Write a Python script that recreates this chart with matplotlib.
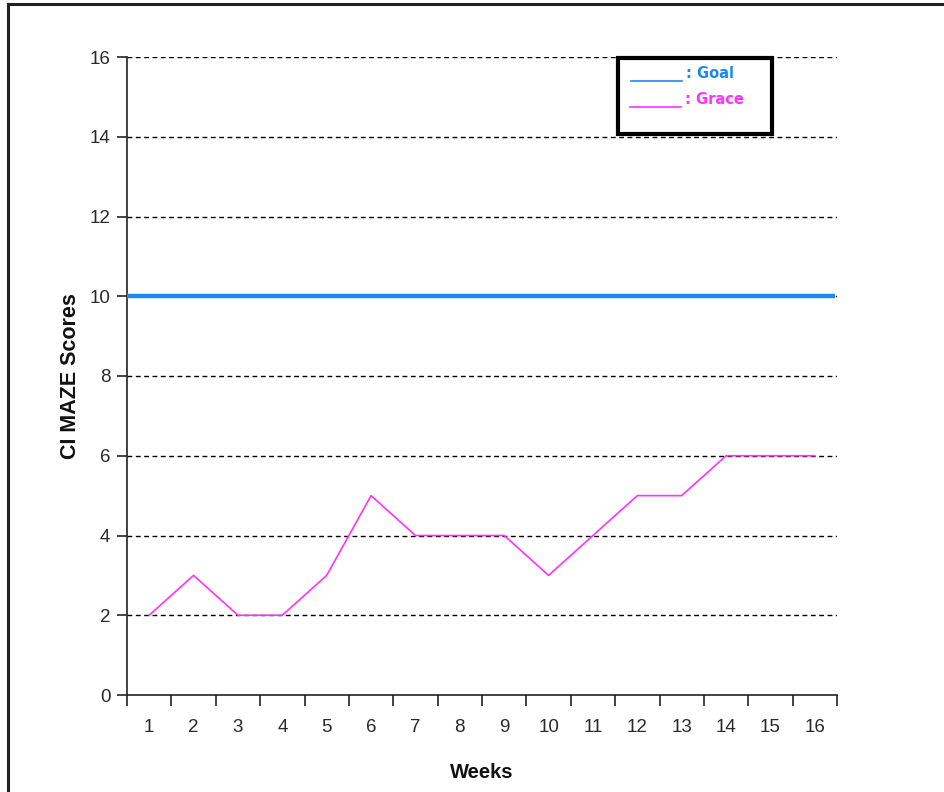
import matplotlib
matplotlib.use("Agg")
import matplotlib.pyplot as plt
from matplotlib.lines import Line2D
from matplotlib.patches import Rectangle

weeks = list(range(1, 17))
week_labels = [str(w) for w in weeks]
grace = [2, 3, 2, 2, 3, 5, 4, 4, 4, 3, 4, 5, 5, 6, 6, 6]
goal_value = 10
yticks = [0, 2, 4, 6, 8, 10, 12, 14, 16]

W, H = 944, 792
fig = plt.figure(figsize=(W / 100, H / 100), dpi=100)
plt.rcParams['font.family'] = ['Liberation Sans', 'DejaVu Sans']

def fx(px):
    return px / W

def fy(py):
    return 1 - py / H

# outer border (left and top visible)
fig.add_artist(Line2D([fx(8), fx(8)], [fy(4), 0], color='#222222', lw=2.2))
fig.add_artist(Line2D([fx(8), 1], [fy(4), fy(4)], color='#222222', lw=2.2))

left, right, top, bottom = 127, 837, 57, 695
ax = fig.add_axes([fx(left), fy(bottom), (right - left) / W, (bottom - top) / H])

ax.set_xlim(0.5, 16.5)
ax.set_ylim(0, 16)

for v in yticks[1:]:
    ax.axhline(v, color='black', lw=1.0, ls=(0, (3.5, 2.5)), zorder=1)

ax.hlines(goal_value, 0.5, 16.45, color='#1E88F0', lw=3.2, zorder=3)
ax.plot(weeks, grace, color='#FF33FF', lw=1.2, zorder=4)

ax.spines['top'].set_visible(False)
ax.spines['right'].set_visible(False)
for s in ('left', 'bottom'):
    ax.spines[s].set_color('#222222')
    ax.spines[s].set_linewidth(1.2)

ax.set_yticks(yticks)
ax.set_yticklabels([str(v) for v in yticks], fontsize=13.5, color='#2a2a2a')
ax.tick_params(axis='y', direction='out', length=7, width=1.2, pad=5, color='#222222')

ax.set_xticks([w + 0.5 for w in [0] + weeks])
ax.set_xticklabels([])
ax.set_xticks(weeks, minor=True)
ax.set_xticklabels(week_labels, minor=True, fontsize=13.5, color='#2a2a2a')
ax.tick_params(axis='x', which='major', direction='out', length=8, width=1.2, color='#222222')
ax.tick_params(axis='x', which='minor', length=0, pad=17)

ax.set_xlabel('Weeks', fontsize=14.5, fontweight='bold', labelpad=20, color='#111111')
ax.set_ylabel('CI MAZE Scores', fontsize=15.5, fontweight='bold', labelpad=6, color='#111111')

# legend box
fig.add_artist(Rectangle((fx(618), fy(134)), (772 - 618) / W, (134 - 58) / H,
                         transform=fig.transFigure, facecolor='white',
                         edgecolor='black', lw=3, zorder=10))
fig.add_artist(Line2D([fx(631), fx(682)], [fy(81), fy(81)], color='#1E88F0', lw=1.2, zorder=11))
fig.add_artist(Line2D([fx(630), fx(681)], [fy(107), fy(107)], color='#FF33FF', lw=1.2, zorder=11))
fig.text(fx(686), fy(73), ': Goal', color='#1E88F0', fontsize=10.5, fontweight='bold',
         va='center', ha='left', family=['DejaVu Sans'], zorder=12)
fig.text(fx(685), fy(100), ': Grace', color='#FF33FF', fontsize=10.5, fontweight='bold',
         va='center', ha='left', family=['DejaVu Sans'], zorder=12)

fig.savefig('out.png', dpi=100, facecolor='white')
